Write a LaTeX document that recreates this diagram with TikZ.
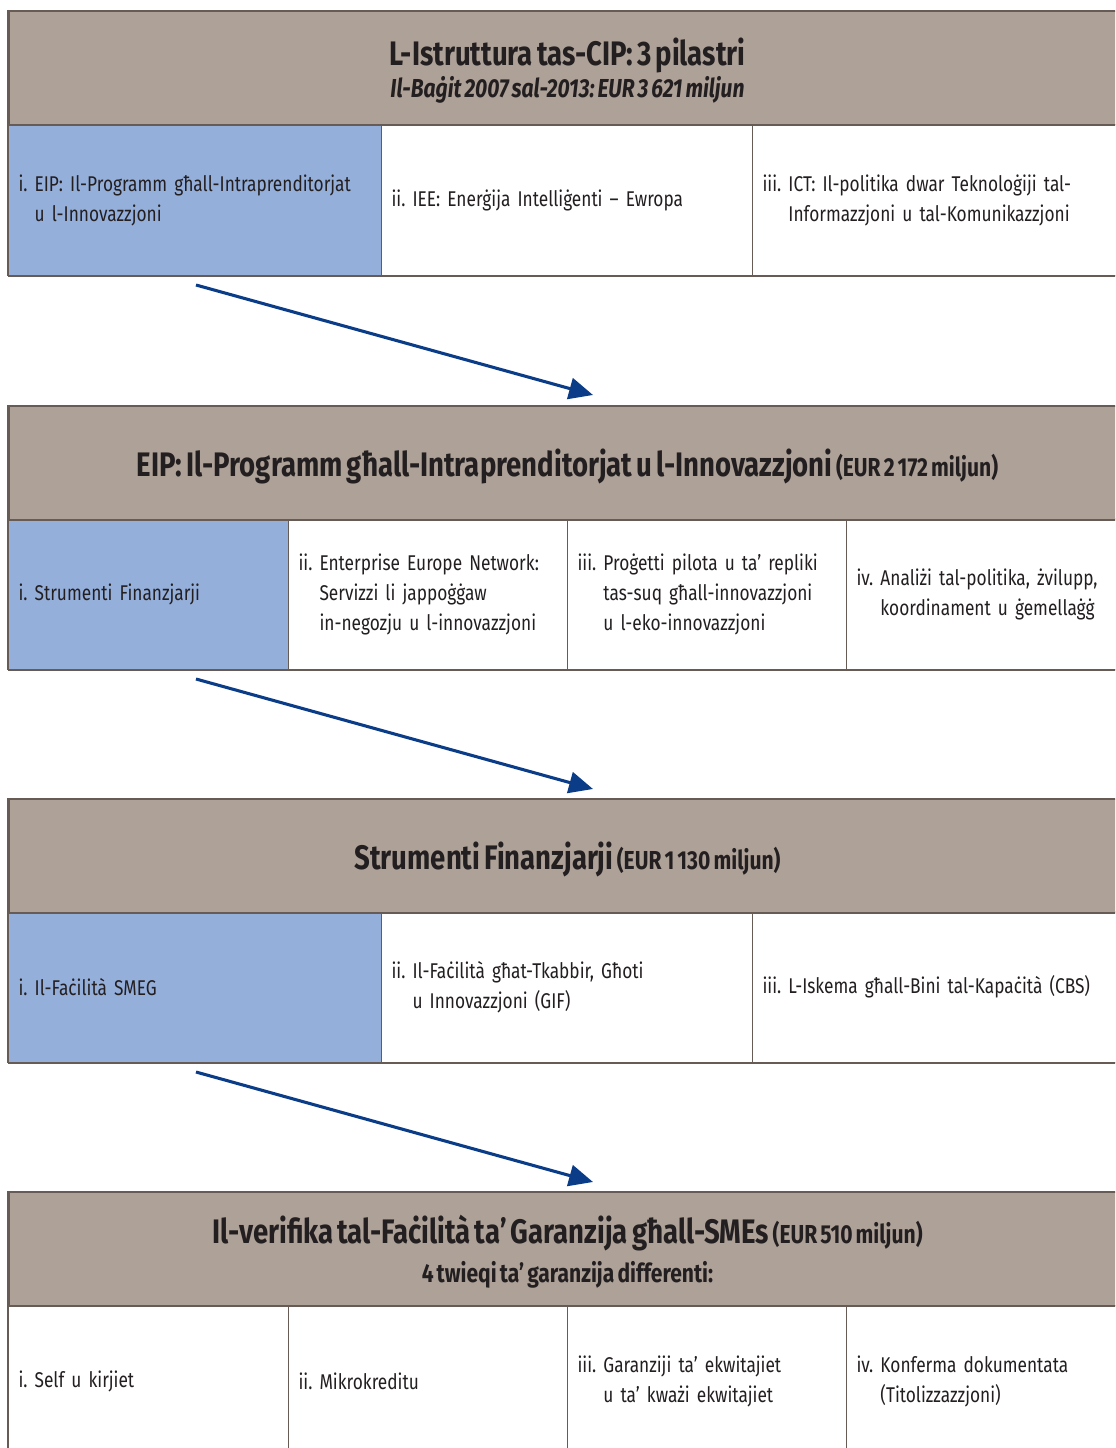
\documentclass[tikz,border=0pt]{standalone}
\usepackage{fontspec}
\setmainfont{Fira Sans}[FakeStretch=0.81, WordSpace=0.62]
\frenchspacing
\usetikzlibrary{arrows.meta}
\definecolor{hdr}{HTML}{ADA198}
\definecolor{blu}{HTML}{95AFDB}
\definecolor{bord}{HTML}{675C55}
\definecolor{arr}{HTML}{0B3C87}
\definecolor{txt}{HTML}{231F20}
\newskip\cellspace
\cellspace=3.3pt plus 1pt minus 0.5pt
\newcommand{\cellfont}{\fontsize{16}{22.5}\selectfont\spaceskip=\cellspace}
\tikzset{
  hdrbox/.style={draw=bord, line width=1.5pt, fill=hdr, anchor=north west, minimum width=837.75pt, minimum height=85.5pt, align=center, text=txt, inner sep=0pt, text depth=0pt, font=\fontsize{19.5}{24}\selectfont},
  cell/.style={draw=bord, line width=0.8pt, anchor=north west, minimum height=113.25pt, inner xsep=7.5pt, inner ysep=0pt, align=left, text=txt, font=\cellfont},
  wideA/.style={cell, text width=264.75pt},
  wideB/.style={cell, text width=263.25pt},
  narA/.style={cell, text width=195pt},
  narB/.style={cell, text width=194.25pt},
  flow/.style={draw=arr, line width=2.3pt, -{Triangle[length=18pt,width=16pt]}},
}
\newcommand{\eur}[1]{{\fontsize{19.5}{24}\bfseries\selectfont #1}}
\newcommand{\ttlf}{\fontsize{25.5}{24}\bfseries\selectfont}
\begin{document}
\begin{tikzpicture}[x=0.75pt,y=-0.75pt]
\clip (0,0) rectangle (1115,1448);
\fill[white] (0,0) rectangle (1115,1448);
% ---------- Block 1
\node[wideA, fill=blu] (b1c1) at (8,124) {i. EIP: Il-Programm għall-Intraprenditorjat\\\phantom{i. }u l-Innovazzjoni};
\node[wideB] (b1c2) at (381,124) {ii. IEE: Enerġija Intelliġenti – Ewropa};
\node[wideA] (b1c3) at (752,124) {iii. ICT: Il-politika dwar Teknoloġiji tal-\\\phantom{iii. }Informazzjoni u tal-Komunikazzjoni};
\node[hdrbox] (b1h) at (8,10) {{\ttlf L-Istruttura tas-CIP: 3 pilastri}\\{\bfseries\itshape Il-Baġit 2007 sal-2013: EUR 3 621 miljun}};
\draw[bord, line width=1.5pt] (b1c1.south west) -- (b1c3.south east);
\draw[bord, line width=1.5pt] (b1h.north west) -- (b1c1.south west);
% ---------- Block 2
\node[narA, fill=blu] (b2c1) at (8,518) {i. Strumenti Finanzjarji};
\node[narB] (b2c2) at (288,518) {ii. Enterprise Europe Network:\\\phantom{ii. }Servizzi li jappoġġaw\\\phantom{ii. }in-negozju u l-innovazzjoni};
\node[narB] (b2c3) at (567,518) {iii. Proġetti pilota u ta’ repliki\\\phantom{iii. }tas-suq għall-innovazzjoni\\\phantom{iii. }u l-eko-innovazzjoni};
\node[narA] (b2c4) at (846,518) {iv. Analiżi tal-politika, żvilupp,\\\phantom{iv. }koordinament u ġemellaġġ};
\node[hdrbox] (b2h) at (8,405) {{\ttlf EIP: Il-Programm għall-Intraprenditorjat u l-Innovazzjoni} \eur{(EUR 2 172 miljun)}};
\draw[bord, line width=1.5pt] (b2c1.south west) -- (b2c4.south east);
\draw[bord, line width=1.5pt] (b2h.north west) -- (b2c1.south west);
% ---------- Block 3
\node[wideA, fill=blu] (b3c1) at (8,911) {i. Il-Faċilità SMEG};
\node[wideB] (b3c2) at (381,911) {ii. Il-Faċilità għat-Tkabbir, Għoti\\\phantom{ii. }u Innovazzjoni (GIF)};
\node[wideA] (b3c3) at (752,911) {iii. L-Iskema għall-Bini tal-Kapaċità (CBS)};
\node[hdrbox] (b3h) at (8,798) {{\ttlf Strumenti Finanzjarji} \eur{(EUR 1 130 miljun)}};
\draw[bord, line width=1.5pt] (b3c1.south west) -- (b3c3.south east);
\draw[bord, line width=1.5pt] (b3h.north west) -- (b3c1.south west);
% ---------- Block 4
\node[narA] (b4c1) at (8,1305) {i. Self u kirjiet};
\node[narB] (b4c2) at (288,1305) {ii. Mikrokreditu};
\node[narB] (b4c3) at (567,1305) {iii. Garanziji ta’ ekwitajiet\\\phantom{iii. }u ta’ kważi ekwitajiet};
\node[narA] (b4c4) at (846,1305) {iv. Konferma dokumentata\\\phantom{iv. }(Titolizzazzjoni)};
\node[hdrbox, font=\fontsize{19.5}{29}\selectfont] (b4h) at (8,1191) {{\ttlf Il-verifika tal-Faċilità ta’ Garanzija għall-SMEs} \eur{(EUR 510 miljun)}\\{\bfseries 4 twieqi ta’ garanzija differenti:}};
\draw[bord, line width=1.5pt] (b4h.north west) -- (b4c1.south west);
% ---------- Arrows
\coordinate (a1s) at (196,285); \coordinate (a1e) at (593,395);
\coordinate (a2s) at (196,679); \coordinate (a2e) at (593,789);
\coordinate (a3s) at (196,1072); \coordinate (a3e) at (593,1182);
\draw[flow] (a1s) -- (a1e);
\draw[flow] (a2s) -- (a2e);
\draw[flow] (a3s) -- (a3e);
\end{tikzpicture}
\end{document}
